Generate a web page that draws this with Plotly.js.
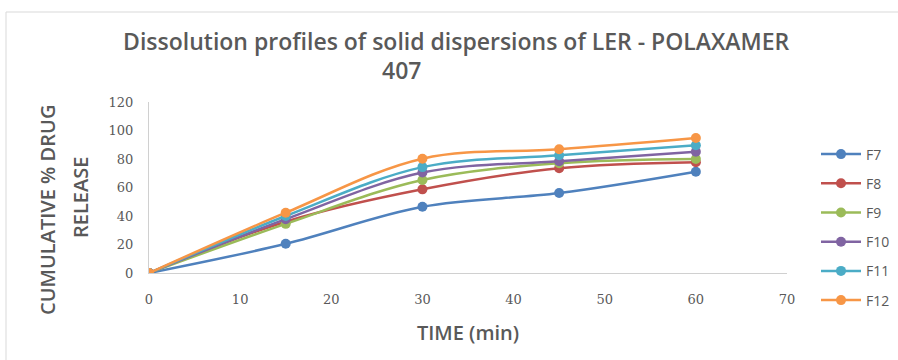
<!DOCTYPE html>
<html>
<head>
<meta charset="utf-8">
<script src="https://cdn.plot.ly/plotly-3.0.1.min.js"></script>
<style>html,body{margin:0;padding:0;background:#fff;}#chart{width:898px;height:360px;}</style>
</head>
<body>
<div id="chart"></div>
<script>
const time = [0, 15, 30, 45, 60];
const F7  = [0, 20.5, 46.5, 56.1, 71.1];
const F8  = [0, 36.0, 58.7, 73.5, 77.7];
const F9  = [0, 34.5, 65.3, 77.0, 80.0];
const F10 = [0, 37.8, 70.5, 78.4, 85.1];
const F11 = [0, 40.0, 74.3, 82.6, 89.6];
const F12 = [0, 42.3, 80.2, 86.8, 94.7];
const seriesNames = ['F7', 'F8', 'F9', 'F10', 'F11', 'F12'];
const seriesData = [F7, F8, F9, F10, F11, F12];
const colors = ['#4F81BD', '#C0504D', '#9BBB59', '#8064A2', '#4BACC6', '#F79646'];
const xTicks = [0, 10, 20, 30, 40, 50, 60, 70];
const yTicks = [0, 20, 40, 60, 80, 100, 120];

const traces = seriesNames.map((n, i) => ({
  x: time, y: seriesData[i], name: n, type: 'scatter', mode: 'lines+markers',
  legendgroup: n,
  line: {color: colors[i], width: 2.5, shape: 'spline', smoothing: 1},
  marker: {color: colors[i], size: 10}
}));

const grey = '#595959';
const px = v => (v - 149) / 638;
const py = v => (273 - v) / 171;
const layout = {
  width: 898, height: 360,
  margin: {l: 149, r: 111, t: 102, b: 87, autoexpand: false},
  paper_bgcolor: '#fff', plot_bgcolor: '#fff',
  showlegend: true,
  legend: {x: px(816), xanchor: 'left', y: py(224), yanchor: 'middle',
    font: {family: 'Open Sans', size: 14, color: grey},
    traceorder: 'grouped', tracegroupgap: 8, itemwidth: 40},
  title: {text: 'Dissolution profiles of solid dispersions of LER - POLAXAMER',
    font: {family: 'Open Sans', size: 23, color: grey, weight: 600},
    x: 0.508, xanchor: 'center', y: 1 - 42 / 360, yanchor: 'middle'},
  xaxis: {range: [0, 70], tickvals: xTicks, ticktext: xTicks.map(String),
    showgrid: false, zeroline: false, showline: true, linecolor: '#D0D0D0', linewidth: 1,
    ticks: '', ticklen: 0, ticklabelstandoff: 14, tickfont: {family: 'DejaVu Serif', size: 13, color: grey},
    title: {text: 'TIME (min)', font: {family: 'Open Sans', size: 20, color: grey, weight: 600}, standoff: 20}},
  yaxis: {range: [0, 120], tickvals: yTicks, ticktext: yTicks.map(String),
    showgrid: false, zeroline: false, showline: true, linecolor: '#D0D0D0', linewidth: 1,
    ticks: '', ticklabelstandoff: 12, tickfont: {family: 'DejaVu Serif', size: 13, color: grey}},
  annotations: [
    {text: '407', xref: 'paper', yref: 'paper', x: px(401), y: py(70),
      xanchor: 'center', yanchor: 'middle', showarrow: false,
      font: {family: 'Open Sans', size: 23, color: grey, weight: 600}},
    {text: 'CUMULATIVE % DRUG', xref: 'paper', yref: 'paper',
      x: px(47), y: py(210), xanchor: 'center', yanchor: 'middle',
      textangle: -90, showarrow: false,
      font: {family: 'Open Sans', size: 20, color: grey, weight: 600}},
    {text: 'RELEASE', xref: 'paper', yref: 'paper',
      x: px(80), y: py(198), xanchor: 'center', yanchor: 'middle',
      textangle: -90, showarrow: false,
      font: {family: 'Open Sans', size: 20, color: grey, weight: 600}}
  ],
  shapes: [
    {type: 'rect', xref: 'paper', yref: 'paper', x0: px(6), x1: px(920),
      y0: py(380), y1: py(12), line: {color: '#D9D9D9', width: 1}, layer: 'below'}
  ]
};
Plotly.newPlot('chart', traces, layout, {displayModeBar: false, staticPlot: true});
</script>
</body>
</html>
